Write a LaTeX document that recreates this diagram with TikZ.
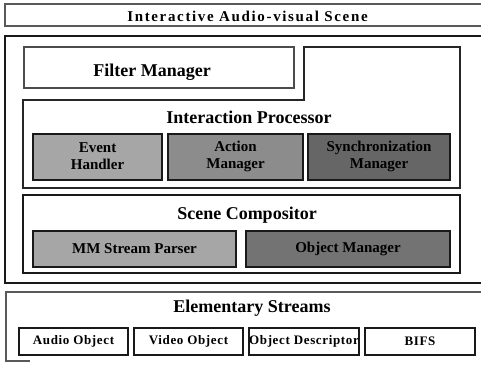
\documentclass[tikz,border=0pt]{standalone}
\usepackage{fontspec}
\setmainfont{Liberation Serif}
\begin{document}
\begin{tikzpicture}[x=1pt,y=-1pt,
  frame/.style={draw=black!85,line width=1.1pt},
  boxn/.style={rectangle,draw=black!90,line width=1.1pt,inner sep=0pt,anchor=center},
  head/.style={font=\fontsize{18}{20}\selectfont\bfseries,inner sep=0pt},
  small/.style={font=\fontsize{13}{15}\selectfont\bfseries\addfontfeature{LetterSpace=5},inner sep=0pt},
  shlab/.style={font=\fontsize{15}{16}\selectfont\bfseries,inner sep=0pt,align=center},
]
\useasboundingbox (0,0) rectangle (481,364);
\fill[white] (0,0) rectangle (481,364);
% top title
\node[boxn,draw=black!65,minimum width=478pt,minimum height=22pt] (top) at (244,15) {};
\node[font=\fontsize{15}{16}\selectfont\bfseries\addfontfeature{LetterSpace=11},inner sep=0pt] (toplab) at (247.5,16) {Interactive Audio-visual Scene};
% main box
\node[boxn,minimum width=478pt,minimum height=247pt] (main) at (244,159.5) {};
% filter manager
\node[boxn,draw=black!70,minimum width=270pt,minimum height=41pt] (filter) at (159,67.5) {};
\node[head] (filterlab) at (152,72) {Filter Manager};
% interaction processor (L shape)
\draw[frame] (23,100) -- (304,100) -- (304,47) -- (460,47) -- (460,188) -- (23,188) -- cycle;
\node[head] (intlab) at (249,117) {Interaction Processor};
\node[boxn,fill=black!35,minimum width=129pt,minimum height=46pt] (event) at (97.5,157) {};
\node[shlab] (eventlab) at (97.5,156.5) {Event\\[1pt]Handler};
\node[boxn,fill=black!45,minimum width=135pt,minimum height=46pt] (action) at (235.5,157) {};
\node[shlab] (actionlab) at (235.5,156.5) {Action\\[1pt]Manager};
\node[boxn,fill=black!60,minimum width=142pt,minimum height=46pt] (sync) at (379,157) {};
\node[shlab] (synclab) at (379,156.5) {Synchronization\\[1pt]Manager};
% scene compositor
\node[boxn,minimum width=437pt,minimum height=78pt] (comp) at (241.5,234) {};
\node[head] (complab) at (247,215) {Scene Compositor};
\node[boxn,fill=black!35,minimum width=203pt,minimum height=36pt] (mm) at (134.5,249) {};
\node[shlab] (mmlab) at (134.5,249) {MM Stream Parser};
\node[boxn,fill=black!55,minimum width=204pt,minimum height=36pt] (objm) at (348,249) {};
\node[shlab] (objmlab) at (348,249) {Object Manager};
% elementary streams
\draw[frame,draw=black!65] (483,292) -- (6,292) -- (6,361) -- (30,361);
\node[head] (eslab) at (252,308) {Elementary Streams};
\node[boxn,minimum width=109pt,minimum height=27pt,small] (audio) at (73.5,341.5) {Audio Object};
\node[boxn,minimum width=109pt,minimum height=27pt,small] (video) at (188.5,341.5) {Video Object};
\node[boxn,minimum width=110pt,minimum height=27pt,small] (odesc) at (304,341.5) {Object Descriptor};
\node[boxn,minimum width=110pt,minimum height=27pt,small] (bifs) at (420,341.5) {BIFS};
\end{tikzpicture}
\end{document}
